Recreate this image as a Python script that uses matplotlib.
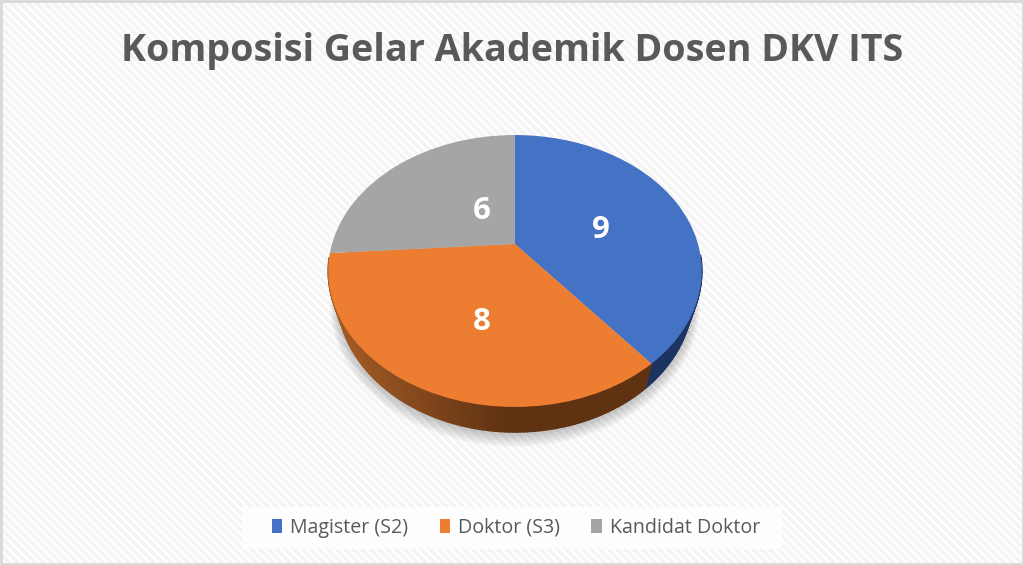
import numpy as np
import matplotlib
matplotlib.use("Agg")
import matplotlib.pyplot as plt
from matplotlib.collections import LineCollection, PolyCollection
from matplotlib.colors import to_rgb
from matplotlib.patches import Patch, Rectangle
from matplotlib.transforms import Transform

plt.rcParams['font.family'] = ['Open Sans', 'DejaVu Sans']

title = "Komposisi Gelar Akademik Dosen DKV ITS"
categories = ["Magister (S2)", "Doktor (S3)", "Kandidat Doktor"]
values = [9, 8, 6]
colors = ["#4472C4", "#ED7D31", "#A5A5A5"]
label_pos = [(601, 230), (482, 322), (482, 211)]

# pie tilt, in pixels of the 1024x565 image
CX, CY = 515, 244
DEPTH = 25
BOTTOM_SCALE = 0.95


class Tilt(Transform):
    """Perspective view of the unit-circle pie, like a 3D pie in Excel."""
    input_dims = output_dims = 2

    def transform_non_affine(self, xy):
        xy = np.asarray(xy, dtype=float)
        w = 1 + 0.1985 * xy[:, 1]
        return np.column_stack((CX + 183 * xy[:, 0] / w, CY - 130.6 * xy[:, 1] / w))


def blend(c1, c2, t):
    return tuple((1 - t) * a + t * b for a, b in zip(to_rgb(c1), to_rgb(c2)))


def lower(pts, off=DEPTH, scale=BOTTOM_SCALE):
    # the bottom face of the pie is further away, so a bit narrower
    return np.column_stack((CX + (pts[..., 0] - CX) * scale, pts[..., 1] + off))


fig = plt.figure(figsize=(10.24, 5.65), dpi=100)
ax = fig.add_axes([0, 0, 1, 1])

tilt = Tilt()
wedges, _ = ax.pie(values, colors=colors, startangle=90, counterclock=False, radius=1)
for w in wedges:
    w.set_transform(tilt + ax.transData)
    w.set_zorder(5)
ax.set_aspect('auto')
ax.set_xlim(0, 1024)
ax.set_ylim(565, 0)
ax.axis('off')

# striped background and border
ax.add_patch(Rectangle((0, 0), 1024, 565, fc="white", ec="none", zorder=0))
stripes = [[(s, 0), (s + 565, 565)] for s in np.arange(-570, 1024, 8.5)]
ax.add_collection(LineCollection(stripes, colors="#f4f4f4", linewidths=2.6, zorder=0.5))
ax.add_patch(Rectangle((1, 1), 1022, 563, fc="none", ec="#d9d9d9", lw=2, zorder=9))

# soft shadow under the pie
t = np.linspace(0, 2 * np.pi, 240)
for grow, off in zip([1.04, 1.032, 1.024, 1.016, 1.008], [DEPTH + 6, DEPTH + 5, DEPTH + 4, DEPTH + 3, DEPTH + 2]):
    pts = lower(tilt.transform(np.column_stack((np.cos(t) * grow, np.sin(t) * grow))), off)
    ax.fill(pts[:, 0], pts[:, 1], color="black", alpha=0.045, lw=0, zorder=1)

# rim of the pie, only the front part is visible
side_quads, side_colors = [], []
for w in wedges:
    th1, th2 = sorted((w.theta1, w.theta2))
    a = np.radians(np.linspace(th1, th2, int(th2 - th1) + 2))
    rim = tilt.transform(np.column_stack((np.cos(a), np.sin(a))))
    low = lower(rim)
    for i in range(len(rim) - 1):
        if np.sin(a[i]) > -0.1:
            continue
        side_quads.append([rim[i], rim[i + 1], low[i + 1], low[i]])
        f = np.clip((rim[i][0] - 335) / 170, 0, 1)
        if w.get_facecolor()[0] > 0.8:
            side_colors.append(blend("#A45C26", "#5F3212", f))
        else:
            side_colors.append(to_rgb("#1D3462"))
ax.add_collection(PolyCollection(side_quads, facecolors=side_colors, edgecolors=side_colors,
                                 linewidths=1.2, zorder=2))

for v, (x, y) in zip(values, label_pos):
    ax.text(x, y, str(v), color="white", fontsize=22.5, fontweight="bold",
            ha="center", va="center", zorder=6)

ax.text(512, 51, title, color="#595959", fontsize=27.1, fontweight="bold",
        ha="center", va="center", zorder=6)

# legend sits on a plain white strip
ax.add_patch(Rectangle((242, 507), 540, 42, fc="white", ec="none", alpha=0.9, zorder=3))
handles = [Patch(fc=c, ec="none") for c in colors]
ax.legend(handles, categories, loc="center", bbox_to_anchor=(516 / 1024, 1 - 528 / 565),
          ncol=3, frameon=False, fontsize=14.1, labelcolor="#595959", handlelength=0.55,
          handleheight=0.75, handletextpad=0.4, columnspacing=1.6)

fig.savefig("out.png", dpi=100)
